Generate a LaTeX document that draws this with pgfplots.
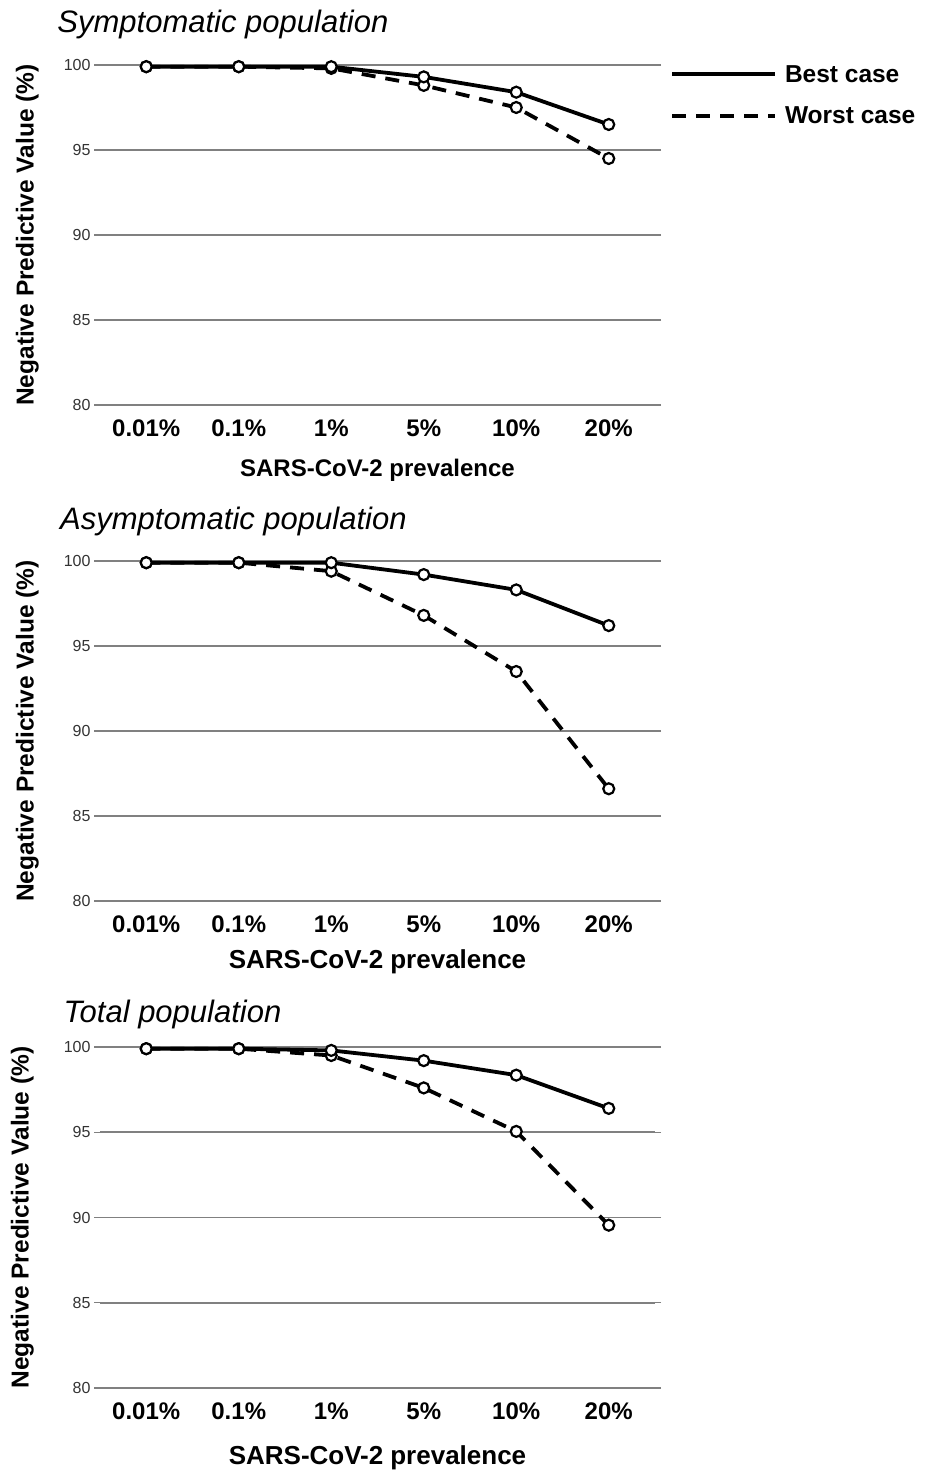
\documentclass[border=0pt]{standalone}
\usepackage{pgfplots}
\usepackage{pgfplotstable}
\pgfplotsset{compat=1.18}
\usepackage{fontspec}
\setmainfont{Liberation Sans}

\pgfplotstableread{
x best worst
0 99.9 99.9
1 99.9 99.9
2 99.9 99.8
3 99.3 98.8
4 98.4 97.5
5 96.5 94.5
}\symp
\pgfplotstableread{
x best worst
0 99.9 99.9
1 99.9 99.9
2 99.9 99.4
3 99.2 96.8
4 98.3 93.5
5 96.2 86.6
}\asymp
\pgfplotstableread{
x best worst
0 99.9 99.9
1 99.9 99.9
2 99.8 99.5
3 99.2 97.6
4 98.35 95.05
5 96.4 89.55
}\total

\pgfplotsset{
  npv/.style={
    width=555pt, height=340pt, scale only axis,
    anchor=south west,
    xmin=-0.5, xmax=5.5, ymin=80, ymax=100,
    xtick={0,...,5}, xticklabels={0.01\%,0.1\%,1\%,5\%,10\%,20\%},
    ytick={80,85,90,95,100},
    ymajorgrids, grid style={line width=1.6pt, color=black!50},
    axis line style={draw=none},
    xtick style={draw=none},
    ytick style={line width=1.2pt, color=black!50},
    tick align=outside, major tick length=6pt,
    /pgf/number format/assume math mode=true,
    yticklabel style={font=\fontsize{16}{18}\selectfont, text=black!80},
    xticklabel style={font=\fontsize{24}{28}\selectfont\bfseries, yshift=-5pt},
    xlabel style={font=\fontsize{24}{28}\selectfont\bfseries, anchor=center},
    ylabel style={font=\fontsize{24.5}{28}\selectfont\bfseries, anchor=center, at={(axis description cs:-0.131,0.5)}},
    ylabel={Negative Predictive Value (\%)},
    title style={font=\fontsize{31}{34}\selectfont\itshape, anchor=base west, inner sep=0pt},
    clip=false,
  },
  best/.style={black, line width=3.8pt, mark=*, mark options={solid, fill=white, draw=black, line width=2.2pt}, mark size=5.5pt},
  worst/.style={black, line width=3.8pt, dash pattern=on 14pt off 10pt, mark=*, mark options={solid, fill=white, draw=black, line width=2.2pt}, mark size=5.5pt},
}

\begin{document}
\begin{tikzpicture}
\useasboundingbox (0,0) rectangle (924pt,1471pt);

% Panel 1
\begin{axis}[npv, at={(100pt,1066pt)},
  title={Symptomatic population}, title style={at={(axis description cs:-0.077,1.079)}},
  xlabel={SARS-CoV-2 prevalence}, xlabel style={at={(axis description cs:0.5,-0.191)}},
  legend style={at={(axis description cs:1,1)}, anchor=north west, xshift=12pt, yshift=4pt,
    draw=none, fill=none, font=\fontsize{24.5}{28}\selectfont\bfseries, row sep=19pt,
    cells={anchor=west}, nodes={inner xsep=8pt}},
  legend image code/.code={\draw[#1] (0pt,0pt) -- (103pt,0pt);},
  reverse legend]
\addplot[worst] table[x=x, y=worst] {\symp};
\addlegendentry{Worst case}
\addplot[best] table[x=x, y=best] {\symp};
\addlegendentry{Best case}
\end{axis}

% Panel 2
\begin{axis}[npv, at={(100pt,570pt)},
  title={Asymptomatic population}, title style={at={(axis description cs:-0.072,1.074)}},
  xlabel={SARS-CoV-2\hspace{7pt}prevalence}, xlabel style={at={(axis description cs:0.5,-0.18)}, font=\fontsize{26}{30}\selectfont\bfseries}]
\addplot[worst] table[x=x, y=worst] {\asymp};
\addplot[best] table[x=x, y=best] {\asymp};
\end{axis}

% Panel 3
\begin{axis}[npv, at={(100pt,83pt)}, height=341pt,
  title={Total population}, title style={at={(axis description cs:-0.066,1.055)}},
  xlabel={SARS-CoV-2\hspace{7pt}prevalence}, xlabel style={at={(axis description cs:0.5,-0.206)}, font=\fontsize{26}{30}\selectfont\bfseries},
  ylabel style={at={(axis description cs:-0.140,0.5)}}]
\addplot[worst] table[x=x, y=worst] {\total};
\addplot[best] table[x=x, y=best] {\total};
\end{axis}
\end{tikzpicture}
\end{document}
